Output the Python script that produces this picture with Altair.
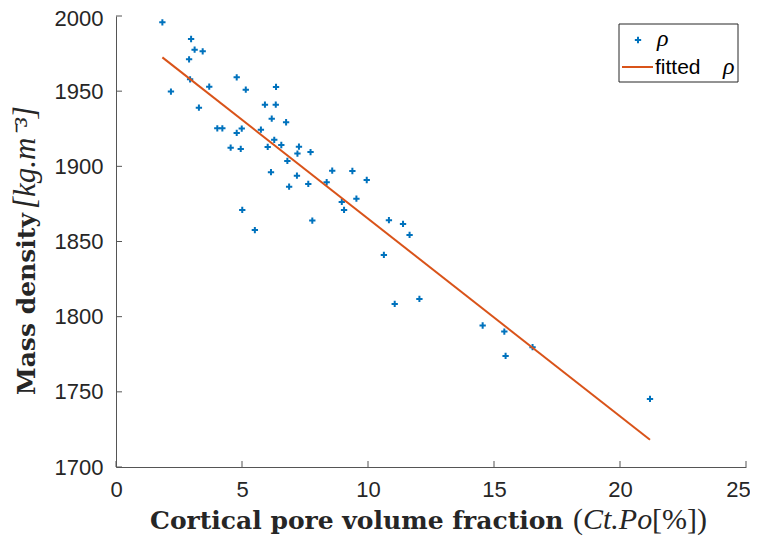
import altair as alt
import pandas as pd

# ---- data ----
ct_po = [1.84, 2.18, 2.90, 2.94, 2.98, 3.12, 3.29, 3.44, 3.70, 4.02, 4.22, 4.55, 4.79, 4.79,
         4.95, 4.99, 5.01, 5.15, 5.51, 5.75, 5.91, 6.02, 6.15, 6.18, 6.28, 6.34, 6.35, 6.56,
         6.75, 6.80, 6.87, 7.18, 7.20, 7.26, 7.63, 7.72, 7.79, 8.36, 8.58, 8.96, 9.05, 9.38,
         9.54, 9.95, 10.63, 10.83, 11.06, 11.39, 11.65, 12.04, 14.55, 15.41, 15.46, 16.53, 21.19]
rho = [1995.8, 1949.7, 1971.2, 1957.9, 1984.7, 1977.6, 1939.0, 1976.5, 1953.0, 1925.3, 1925.3,
       1912.4, 1959.2, 1922.2, 1911.6, 1925.1, 1871.0, 1951.0, 1857.6, 1924.4, 1941.0, 1912.9,
       1896.1, 1931.7, 1917.6, 1941.0, 1952.8, 1914.2, 1929.3, 1903.6, 1886.5, 1893.8, 1908.5,
       1913.1, 1888.3, 1909.5, 1863.9, 1889.4, 1897.1, 1876.3, 1871.0, 1896.9, 1878.5, 1890.9,
       1841.1, 1864.2, 1808.5, 1861.7, 1854.4, 1811.8, 1794.1, 1790.1, 1773.9, 1779.7, 1745.3]
fit_x = [1.84, 21.19]
fit_y = [1972.5, 1718.1]
x_ticks = [0, 5, 10, 15, 20, 25]
y_ticks = [1700, 1750, 1800, 1850, 1900, 1950, 2000]

W, H = 630, 451
AX = "#555555"
LBL = "#262626"
BLUE = "#0072BD"
RED = "#D95319"

xs = alt.Scale(domain=[0, 25], nice=False, zero=False)
ys = alt.Scale(domain=[1700, 2000], nice=False, zero=False)

x_axis = alt.Axis(values=x_ticks, title=None, ticks=False, domainColor=AX, domainWidth=1,
                  labelFont="Liberation Sans", labelFontSize=22, labelColor=LBL, format="d",
                  labelPadding=12, grid=False, labelFlush=False, labelOverlap=False,
                  labelOffset=alt.ExprRef("datum.value == 25 ? -8 : 0"))
y_axis = alt.Axis(values=y_ticks, title=None, ticks=False, domainColor=AX, domainWidth=1,
                  labelFont="Liberation Sans", labelFontSize=22, labelColor=LBL, format="d",
                  labelPadding=13, grid=False, labelFlush=False, labelOverlap=False,
                  labelOffset=alt.ExprRef("datum.value == 2000 ? 2 : 0"))

pts_df = pd.DataFrame({"x": ct_po, "y": rho})
fit_df = pd.DataFrame({"x": fit_x, "y": fit_y})

points = alt.Chart(pts_df).mark_point(
    shape="M-1,0H1M0,-1V1", filled=False, size=40, strokeWidth=2, color=BLUE, opacity=1
).encode(
    x=alt.X("x:Q", scale=xs, axis=x_axis),
    y=alt.Y("y:Q", scale=ys, axis=y_axis),
)

fit = alt.Chart(fit_df).mark_line(color=RED, strokeWidth=2).encode(
    x=alt.X("x:Q", scale=xs, axis=x_axis), y=alt.Y("y:Q", scale=ys, axis=y_axis)
)

yt = alt.Chart(pd.DataFrame({"x": y_ticks})).mark_rule(color=AX, strokeWidth=1).encode(
    y=alt.Y("x:Q", scale=ys, axis=y_axis), x=alt.value(0), x2=alt.value(6)
)
xt = alt.Chart(pd.DataFrame({"x": x_ticks})).mark_rule(color=AX, strokeWidth=1).encode(
    x=alt.X("x:Q", scale=xs, axis=x_axis), y=alt.value(H), y2=alt.value(H - 6)
)

one = pd.DataFrame({"a": [0]})


def txt(s, x, y, font, size, weight="normal", style="normal", angle=0, color=LBL):
    kw = dict(text=s, font=font, fontSize=size, fontWeight=weight, fontStyle=style,
              align="left", baseline="alphabetic", color=color)
    if angle:
        kw["angle"] = angle
    return alt.Chart(one).mark_text(**kw).encode(x=alt.value(x), y=alt.value(y))


# axis titles
xtitle1 = txt("Cortical pore volume fraction", 34, 513, "DejaVu Serif", 25, weight="bold")
xtitle2 = txt("(", 457, 513, "Liberation Serif", 30)
xtitle3 = txt("Ct.Po", 467, 513, "Liberation Serif", 30, style="italic")
xtitle4 = txt("[%])", 536, 513, "Liberation Serif", 30)
ytitle1 = txt("Mass density", -81, 379, "DejaVu Serif", 25, weight="bold", angle=270)
ytitle2 = txt("[kg.m⁻³]", -81, 193, "Liberation Serif", 31, style="italic", angle=270)

# legend
leg_box = alt.Chart(one).mark_rect(fill="white", stroke="#262626", strokeWidth=1).encode(
    x=alt.value(503), x2=alt.value(622), y=alt.value(8), y2=alt.value(66)
)
leg_pt = alt.Chart(one).mark_point(
    shape="M-1,0H1M0,-1V1", filled=False, size=40, strokeWidth=2, color=BLUE, opacity=1
).encode(x=alt.value(522), y=alt.value(24))
leg_ln = alt.Chart(one).mark_rule(color=RED, strokeWidth=2).encode(
    x=alt.value(506), x2=alt.value(537), y=alt.value(51)
)
leg_t1 = txt("ρ", 541, 30, "Liberation Serif", 24, style="italic", color="#000000")
leg_t2 = txt("fitted", 539, 58, "Liberation Sans", 21, color="#000000")
leg_t3 = txt("ρ", 607, 58, "Liberation Serif", 24, style="italic", color="#000000")

chart = alt.layer(
    points, fit, yt, xt, xtitle1, xtitle2, xtitle3, xtitle4, ytitle1, ytitle2,
    leg_box, leg_pt, leg_ln, leg_t1, leg_t2, leg_t3
).properties(
    width=W, height=H,
    autosize=alt.AutoSizeParams(type="none"),
    padding={"left": 108, "top": 8, "right": 4, "bottom": 70},
    background="white",
).configure_view(stroke=None)

chart.save("out.html", embed_options={"renderer": "svg", "actions": False})
